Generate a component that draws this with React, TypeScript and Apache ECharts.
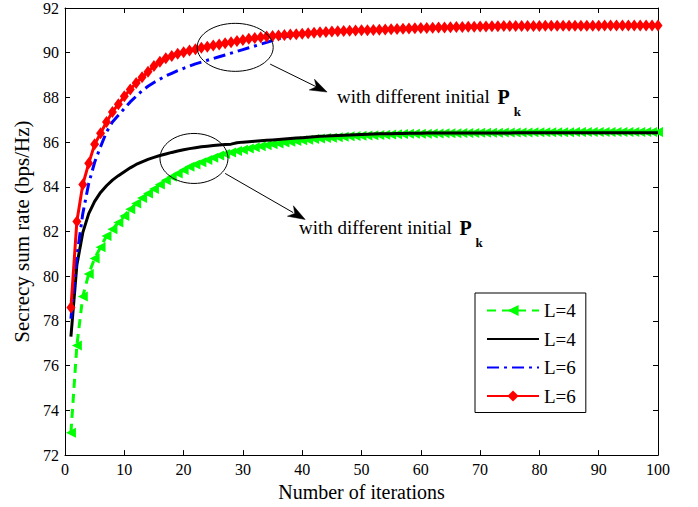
import React, { useEffect, useRef } from 'react';
import * as echarts from 'echarts';

const FONT = 'Liberation Serif, serif';

// Iteration index 1..100
const iterations: number[] = Array.from({ length: 100 }, (_, i) => i + 1);

const xTicks = [0, 10, 20, 30, 40, 50, 60, 70, 80, 90, 100];
const yTicks = [72, 74, 76, 78, 80, 82, 84, 86, 88, 90, 92];

const legendNames = ['L=4', 'L=4', 'L=6', 'L=6'];

// Green dashed, left-triangle markers (L=4)
const greenL4 = [
  73.0, 76.9, 79.1, 80.1, 80.8, 81.3, 81.8, 82.1, 82.4, 82.7,
  83.0, 83.25, 83.5, 83.7, 83.9, 84.1, 84.3, 84.45, 84.6, 84.75,
  84.9, 85.0, 85.1, 85.2, 85.3, 85.4, 85.47, 85.54, 85.6, 85.66,
  85.72, 85.77, 85.82, 85.86, 85.9, 85.94, 85.98, 86.02, 86.05, 86.08,
  86.11, 86.14, 86.16, 86.18, 86.2, 86.22, 86.24, 86.26, 86.27, 86.29,
  86.3, 86.31, 86.32, 86.33, 86.34, 86.35, 86.36, 86.37, 86.37, 86.38,
  86.38, 86.39, 86.39, 86.4, 86.4, 86.4, 86.41, 86.41, 86.41, 86.42,
  86.42, 86.42, 86.42, 86.43, 86.43, 86.43, 86.43, 86.43, 86.44, 86.44,
  86.44, 86.44, 86.44, 86.44, 86.44, 86.45, 86.45, 86.45, 86.45, 86.45,
  86.45, 86.45, 86.45, 86.45, 86.45, 86.45, 86.45, 86.45, 86.45, 86.45,
];

// Black solid (L=4)
const blackL4 = [
  77.3, 80.5, 81.95, 82.8, 83.35, 83.75, 84.05, 84.3, 84.5, 84.68,
  84.85, 85.0, 85.12, 85.23, 85.32, 85.4, 85.47, 85.54, 85.6, 85.66,
  85.71, 85.75, 85.79, 85.82, 85.85, 85.87, 85.89, 85.91, 85.97, 86.0,
  86.02, 86.04, 86.06, 86.08, 86.1, 86.12, 86.14, 86.16, 86.18, 86.2,
  86.22, 86.24, 86.26, 86.27, 86.29, 86.3, 86.31, 86.32, 86.33, 86.34,
  86.35, 86.36, 86.37, 86.38, 86.38, 86.39, 86.39, 86.4, 86.4, 86.4,
  86.41, 86.41, 86.41, 86.41, 86.41, 86.41, 86.41, 86.41, 86.41, 86.41,
  86.41, 86.41, 86.41, 86.41, 86.41, 86.42, 86.42, 86.42, 86.42, 86.42,
  86.42, 86.42, 86.42, 86.42, 86.42, 86.42, 86.42, 86.42, 86.42, 86.42,
  86.42, 86.42, 86.42, 86.42, 86.42, 86.42, 86.42, 86.42, 86.42, 86.42,
];

// Blue dash-dot (L=6)
const blueL6 = [
  78.1, 80.9, 82.8, 84.15, 85.1, 85.8, 86.45, 86.9, 87.2, 87.5,
  87.8, 88.05, 88.3, 88.5, 88.67, 88.82, 88.96, 89.08, 89.2, 89.3,
  89.4, 89.5, 89.58, 89.66, 89.74, 89.82, 89.9, 89.98, 90.06, 90.14,
  90.22, 90.3, 90.38, 90.46, 90.54, 90.62, 90.7, 90.77, 90.82, 90.85,
  90.87, 90.89, 90.91, 90.93, 90.95, 90.96, 90.97, 90.98, 90.99, 91.0,
  91.01, 91.02, 91.03, 91.04, 91.05, 91.06, 91.07, 91.08, 91.09, 91.1,
  91.11, 91.12, 91.13, 91.13, 91.14, 91.15, 91.15, 91.16, 91.16, 91.17,
  91.17, 91.18, 91.18, 91.19, 91.19, 91.19, 91.2, 91.2, 91.2, 91.2,
  91.21, 91.21, 91.21, 91.21, 91.21, 91.21, 91.21, 91.21, 91.21, 91.21,
  91.22, 91.22, 91.22, 91.22, 91.22, 91.22, 91.22, 91.22, 91.22, 91.22,
];

// Red solid, diamond markers (L=6)
const redL6 = [
  78.6, 82.45, 84.1, 85.05, 85.9, 86.4, 86.9, 87.35, 87.7, 88.05,
  88.35, 88.65, 88.9, 89.15, 89.4, 89.6, 89.75, 89.85, 89.95, 90.02,
  90.1, 90.16, 90.22, 90.27, 90.32, 90.37, 90.42, 90.47, 90.52, 90.57,
  90.62, 90.66, 90.69, 90.72, 90.75, 90.77, 90.79, 90.81, 90.83, 90.85,
  90.87, 90.89, 90.91, 90.93, 90.95, 90.96, 90.97, 90.98, 90.99, 91.0,
  91.01, 91.02, 91.03, 91.04, 91.05, 91.06, 91.07, 91.08, 91.09, 91.1,
  91.11, 91.12, 91.13, 91.13, 91.14, 91.15, 91.15, 91.16, 91.16, 91.17,
  91.17, 91.18, 91.18, 91.19, 91.19, 91.19, 91.2, 91.2, 91.2, 91.2,
  91.21, 91.21, 91.21, 91.21, 91.21, 91.21, 91.21, 91.21, 91.21, 91.21,
  91.22, 91.22, 91.22, 91.22, 91.22, 91.22, 91.22, 91.22, 91.22, 91.22,
];

const annotationText = 'with different initial ';

const pairs = (vals: number[]) => iterations.map((x, i) => [x, vals[i]]);

function arrowHead(x1: number, y1: number, x2: number, y2: number) {
  const len = 17, half = 6, notch = 12;
  const dx = x2 - x1, dy = y2 - y1;
  const L = Math.hypot(dx, dy);
  const ux = dx / L, uy = dy / L;
  const nx = -uy, ny = ux;
  return [
    [x2, y2],
    [x2 - len * ux + half * nx, y2 - len * uy + half * ny],
    [x2 - notch * ux, y2 - notch * uy],
    [x2 - len * ux - half * nx, y2 - len * uy - half * ny],
  ];
}

export default function App() {
  const ref = useRef<HTMLDivElement>(null);

  useEffect(() => {
    if (!ref.current) return;
    const chart = echarts.init(ref.current, undefined, { renderer: 'svg' });

    const axisCommon = {
      type: 'value' as const,
      axisLine: { show: true, onZero: false, lineStyle: { color: '#000', width: 1 } },
      axisTick: { show: true, inside: true, length: 5, lineStyle: { color: '#000', width: 1 } },
      splitLine: { show: false },
    };

    const hiddenSymbol = { color: 'rgba(0,0,0,0)', borderWidth: 0, opacity: 0 };

    const option: any = {
      animation: false,
      backgroundColor: '#fff',
      grid: { left: 65, right: 40, top: 6, bottom: 51, containLabel: false },
      xAxis: [
        {
          ...axisCommon,
          position: 'bottom',
          min: xTicks[0],
          max: xTicks[xTicks.length - 1],
          interval: xTicks[1] - xTicks[0],
          axisLabel: { fontFamily: FONT, fontSize: 16, color: '#000', margin: 6 },
          name: 'Number of iterations',
          nameLocation: 'middle',
          nameGap: 25,
          nameTextStyle: { fontFamily: FONT, fontSize: 20, color: '#000' },
        },
        {
          ...axisCommon,
          position: 'top',
          min: xTicks[0],
          max: xTicks[xTicks.length - 1],
          interval: xTicks[1] - xTicks[0],
          axisLabel: { show: false },
        },
      ],
      yAxis: [
        {
          ...axisCommon,
          position: 'left',
          min: yTicks[0],
          max: yTicks[yTicks.length - 1],
          interval: yTicks[1] - yTicks[0],
          axisLabel: { fontFamily: FONT, fontSize: 16, color: '#000', margin: 6 },
          name: 'Secrecy sum rate (bps/Hz)',
          nameLocation: 'middle',
          nameGap: 28,
          nameTextStyle: { fontFamily: FONT, fontSize: 21, color: '#000' },
        },
        {
          ...axisCommon,
          position: 'right',
          min: yTicks[0],
          max: yTicks[yTicks.length - 1],
          interval: yTicks[1] - yTicks[0],
          axisLabel: { show: false },
        },
      ],
      legend: {
        orient: 'vertical',
        left: 475,
        top: 293,
        backgroundColor: '#fff',
        borderColor: '#000',
        borderWidth: 1,
        borderRadius: 0,
        padding: [8, 10, 7, 11],
        itemWidth: 52,
        itemHeight: 14,
        itemGap: 9.5,
        selectedMode: false,
        textStyle: { fontFamily: FONT, fontSize: 19, color: '#000', lineHeight: 19 },
        data: [
          { name: legendNames[0] + '#0' },
          { name: legendNames[1] + '#1', itemStyle: hiddenSymbol },
          { name: legendNames[2] + '#2', itemStyle: hiddenSymbol },
          { name: legendNames[3] + '#3' },
        ],
        formatter: (name: string) => name.split('#')[0],
      },
      series: [
        {
          name: legendNames[0] + '#0',
          type: 'line',
          xAxisIndex: 0,
          yAxisIndex: 0,
          data: pairs(greenL4),
          symbol: 'triangle',
          symbolSize: [10, 10],
          symbolRotate: 90,
          showAllSymbol: true,
          lineStyle: { color: '#00ff00', width: 3, type: [9, 6] },
          itemStyle: { color: '#00ff00', borderWidth: 0 },
          emphasis: { disabled: true },
          z: 2,
        },
        {
          name: legendNames[1] + '#1',
          type: 'line',
          data: pairs(blackL4),
          symbol: 'none',
          lineStyle: { color: '#000000', width: 3 },
          itemStyle: { color: '#000000' },
          emphasis: { disabled: true },
          z: 3,
        },
        {
          name: legendNames[2] + '#2',
          type: 'line',
          data: pairs(blueL6),
          symbol: 'none',
          lineStyle: { color: '#0000ff', width: 3, type: [12, 5, 3, 5] },
          itemStyle: { color: '#0000ff' },
          emphasis: { disabled: true },
          z: 4,
        },
        {
          name: legendNames[3] + '#3',
          type: 'line',
          data: pairs(redL6),
          symbol: 'diamond',
          symbolSize: [9, 12],
          showAllSymbol: true,
          lineStyle: { color: '#ff0000', width: 3 },
          itemStyle: { color: '#ff0000', borderWidth: 0 },
          emphasis: { disabled: true },
          z: 5,
        },
      ],
    };

    chart.setOption(option);

    const px = (p: number[]) => chart.convertToPixel({ gridIndex: 0 }, p) as number[];

    const anns = [
      { ell: [28.7, 90.24], rx: 38, ry: 24, a0: [34.6, 89.49], a1: [44.2, 88.24], txt: [45.87, 88.02] },
      { ell: [21.75, 85.27], rx: 34, ry: 25, a0: [27.0, 84.6], a1: [40.5, 82.54], txt: [39.46, 82.18] },
    ];

    const graphic: any[] = [];
    anns.forEach((a) => {
      const c = px(a.ell);
      const s = px(a.a0);
      const e = px(a.a1);
      const t = px(a.txt);
      graphic.push({
        type: 'ellipse',
        shape: { cx: c[0], cy: c[1], rx: a.rx, ry: a.ry },
        style: { fill: 'none', stroke: '#000', lineWidth: 1 },
        z: 100,
      });
      graphic.push({
        type: 'line',
        shape: { x1: s[0], y1: s[1], x2: e[0] - (e[0] - s[0]) * 0.15, y2: e[1] - (e[1] - s[1]) * 0.15 },
        style: { stroke: '#000', lineWidth: 1 },
        z: 100,
      });
      graphic.push({
        type: 'polygon',
        shape: { points: arrowHead(s[0], s[1], e[0], e[1]) },
        style: { fill: '#000', stroke: '#000', lineWidth: 0.5 },
        z: 100,
      });
      graphic.push({
        type: 'text',
        x: t[0],
        y: t[1] - 9.5,
        z: 100,
        style: {
          text: '{a|' + annotationText + '}{p|P}{k|k}',
          align: 'left',
          verticalAlign: 'top',
          textAlign: 'left',
          textVerticalAlign: 'top',
          rich: {
            a: { fontFamily: FONT, fontSize: 19, lineHeight: 19, fill: '#000', color: '#000', verticalAlign: 'top' },
            p: { fontFamily: FONT, fontSize: 20, lineHeight: 19, fontWeight: 'bold', fill: '#000', color: '#000', verticalAlign: 'top', padding: [0, 0, 0, 3] },
            k: { fontFamily: FONT, fontSize: 13, lineHeight: 13, fontWeight: 'bold', fill: '#000', color: '#000', verticalAlign: 'top', padding: [18, 0, 0, 4] },
          },
        },
      });
    });

    chart.setOption({ graphic });

    return () => chart.dispose();
  }, []);

  return (
    <div
      ref={ref}
      style={{ position: 'fixed', left: 0, top: 0, width: 698, height: 507, background: '#fff' }}
    />
  );
}
